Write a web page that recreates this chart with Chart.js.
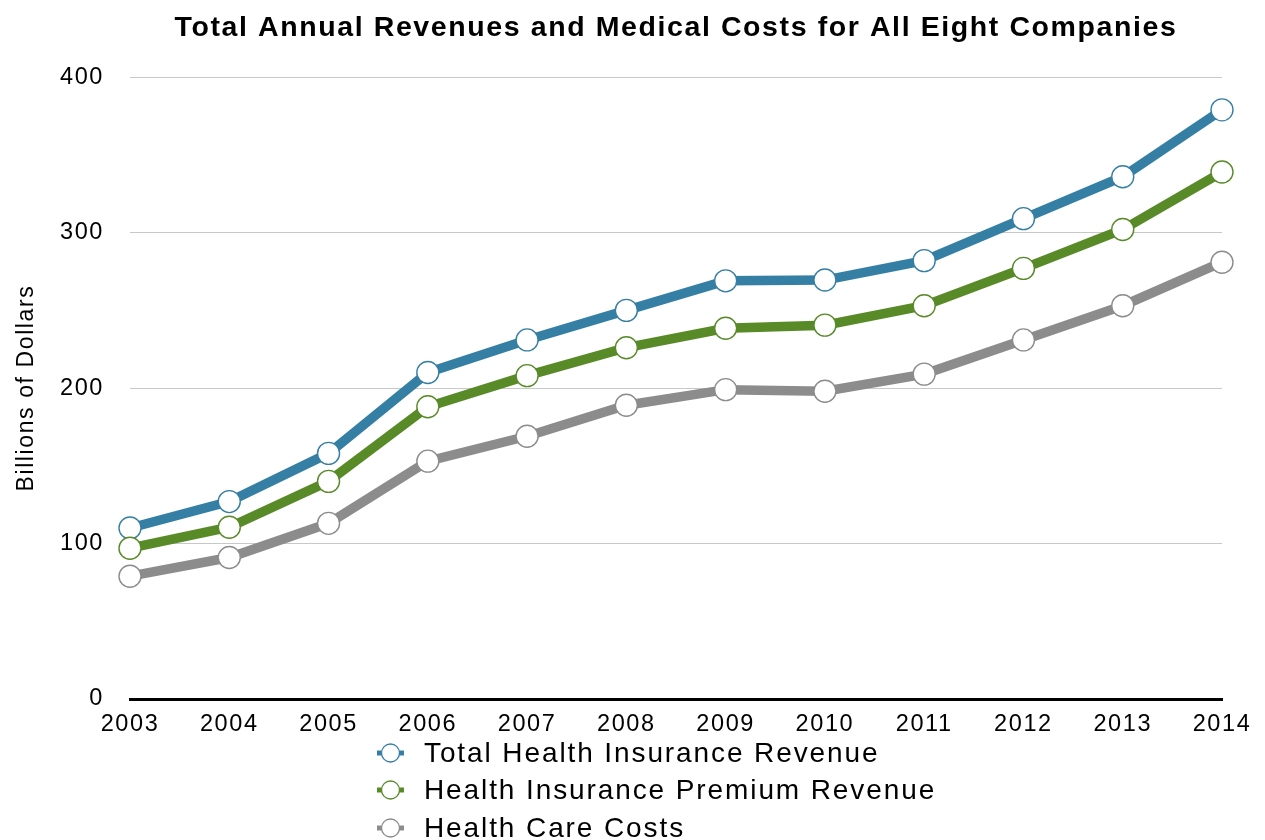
<!DOCTYPE html>
<html lang="en">
<head>
    <meta charset="UTF-8">
    <title>Total Annual Revenues and Medical Costs</title>
    <script src="https://cdn.jsdelivr.net/npm/chart.js"></script>
    <style>
        html, body { margin: 0; padding: 0; background: #fff; overflow: hidden; }
        #wrap { position: relative; width: 1265px; height: 840px; }
        #legend { position: absolute; left: 377px; top: 734px; font-family: "Liberation Sans", Arial, sans-serif; font-size: 28px; letter-spacing: 1.9px; color: #000; }
        .item { display: flex; align-items: center; height: 37.5px; }
        .item svg { margin-right: 20px; }
    </style>
</head>
<body>
<div id="wrap">
    <canvas id="chart" width="1265" height="840"></canvas>
    <div id="legend"></div>
</div>
<script>
    const years = ['2003', '2004', '2005', '2006', '2007', '2008', '2009', '2010', '2011', '2012', '2013', '2014'];
    const totalRevenue = [110, 127, 158, 210, 231, 250, 269, 269.5, 282, 309, 336, 379];
    const premiumRevenue = [97, 110.5, 140, 188, 208, 226, 238.5, 240.5, 253, 277, 302, 339];
    const careCosts = [79, 91, 113, 153, 169, 189, 199, 198, 209, 231, 253, 281];
    const seriesNames = ['Total Health Insurance Revenue', 'Health Insurance Premium Revenue', 'Health Care Costs'];
    const seriesColors = ['#367fa4', '#588a28', '#8c8c8c'];

    function makeSet(label, data, color) {
        return {
            label: label,
            data: data,
            borderColor: color,
            backgroundColor: color,
            borderWidth: 9.5,
            tension: 0,
            pointRadius: 11,
            pointHoverRadius: 11,
            pointBackgroundColor: '#ffffff',
            pointBorderColor: color,
            pointBorderWidth: 1.4
        };
    }

    const font = 'Liberation Sans';

    // the original text is set a little wider than Liberation Sans
    const spacing = {
        id: 'spacing',
        beforeLayout: chart => { chart.ctx.letterSpacing = '1.6px'; },
        beforeDraw: chart => { chart.ctx.letterSpacing = '1.6px'; }
    };

    new Chart(document.getElementById('chart'), {
        type: 'line',
        data: {
            labels: years,
            datasets: [
                makeSet(seriesNames[2], careCosts, seriesColors[2]),
                makeSet(seriesNames[1], premiumRevenue, seriesColors[1]),
                makeSet(seriesNames[0], totalRevenue, seriesColors[0])
            ]
        },
        plugins: [spacing],
        options: {
            responsive: false,
            animation: false,
            layout: { padding: { left: 0, right: 43, top: 0, bottom: 0 } },
            plugins: {
                legend: { display: false },
                tooltip: { enabled: false },
                title: {
                    display: true,
                    fullSize: false,
                    text: 'Total Annual Revenues and Medical Costs for All Eight Companies',
                    color: '#000',
                    font: { family: font, size: 28.5, weight: 'bold' },
                    padding: { top: 11, bottom: 32 }
                }
            },
            scales: {
                x: {
                    offset: false,
                    grid: { display: false, drawTicks: false },
                    border: { display: true, color: '#000', width: 3 },
                    ticks: { color: '#000', font: { family: font, size: 23.5 }, padding: 11, maxRotation: 0 },
                    afterFit: s => { s.height = 141; }
                },
                y: {
                    min: 0,
                    max: 400,
                    ticks: { stepSize: 100, color: '#000', font: { family: font, size: 23.5 }, padding: 26 },
                    grid: { color: '#c8c8c8', lineWidth: 1, drawTicks: false },
                    border: { display: false },
                    title: {
                        display: true,
                        text: 'Billions of Dollars',
                        color: '#000',
                        font: { family: font, size: 23 },
                        padding: { top: 13, bottom: 0 }
                    },
                    afterFit: s => { s.width = 130; }
                }
            }
        }
    });

    // legend below the axis, one entry per line
    const legend = document.getElementById('legend');
    seriesNames.forEach((name, i) => {
        const c = seriesColors[i];
        legend.innerHTML += `<div class="item">
            <svg width="27" height="22"><line x1="0" y1="11" x2="27" y2="11" stroke="${c}" stroke-width="5"/>
            <circle cx="13.5" cy="11" r="9" fill="#fff" stroke="${c}" stroke-width="1.3"/></svg>${name}</div>`;
    });
</script>
</body>
</html>
